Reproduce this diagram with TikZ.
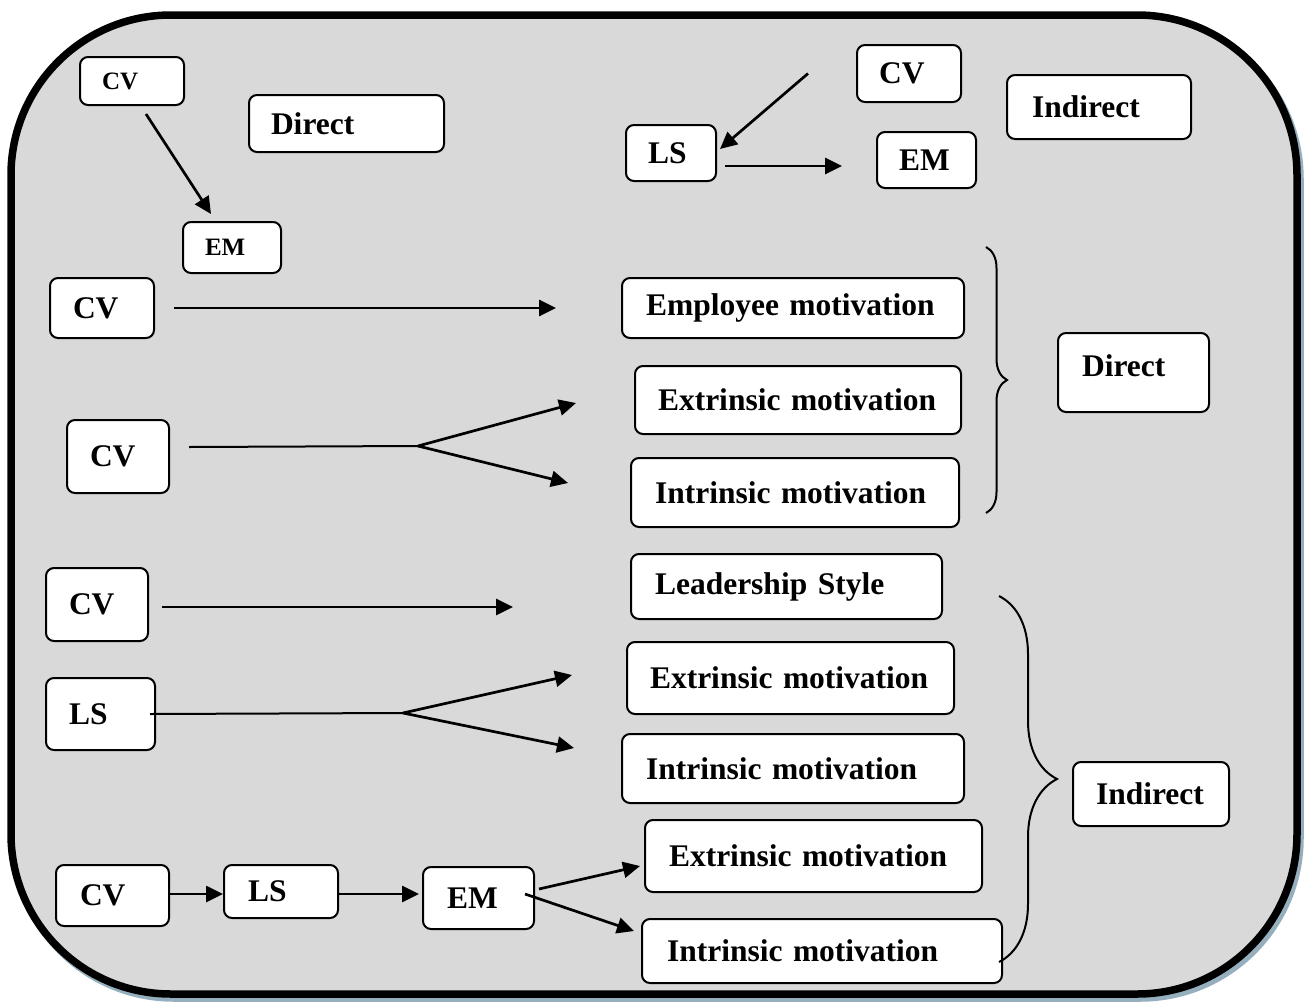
\documentclass[tikz,border=0pt]{standalone}
\usepackage{fontspec}
\setmainfont{Liberation Serif}
\usetikzlibrary{arrows.meta, decorations.pathreplacing}
\definecolor{panelgray}{RGB}{217,217,217}
\definecolor{shadowblue}{RGB}{150,175,190}

\tikzset{
  bx/.style n args={3}{draw, line width=2pt, rounded corners=8pt, fill=white,
    anchor=north west, align=left, inner ysep=0pt,
    text width=#1, minimum height=#2, inner xsep=#3},
  big/.style={font=\fontsize{31.5}{36}\selectfont\bfseries},
  small/.style={font=\fontsize{25}{30}\selectfont\bfseries},
  arr/.style={line width=2.7pt, -{Triangle[length=17pt,width=16pt]}},
  ln/.style={line width=2pt},
  brc/.style={decorate, decoration={brace, amplitude=#1}, line width=2pt}
}

\begin{document}
\begin{tikzpicture}[x=1pt, y=-1pt]
    \useasboundingbox (0,0) rectangle (1304,1002);
    % frame
    \draw[shadowblue, line width=7.5pt, rounded corners=160pt] (14,19) rectangle (1300,998);
    \draw[line width=7.5pt, fill=panelgray, rounded corners=160pt] (11,15) rectangle (1297,994);

    % legend: direct
    \node[bx={60pt}{48pt}{22pt}, small] (cvA) at (79,56) {CV};
    \node[bx={151pt}{57pt}{22pt}, big] (dirA) at (248,94) {Direct};
    \node[bx={54pt}{51pt}{22pt}, small] (emA) at (182,221) {EM};
    \draw[arr] ([xshift=14pt,yshift=-8pt]cvA.south) -- ([xshift=-21pt,yshift=7pt]emA.north);

    % legend: indirect
    \node[bx={60pt}{57pt}{22pt}, big] (cvB) at (856,44) {CV};
    \node[bx={46pt}{56pt}{22pt}, big] (lsB) at (625,124) {LS};
    \node[bx={55pt}{56pt}{22pt}, big] (emB) at (876,131) {EM};
    \node[bx={134pt}{64pt}{25pt}, big] (indB) at (1006,74) {Indirect};
    \draw[arr] ([xshift=-48pt]cvB.west) -- ([xshift=3pt,yshift=4pt]lsB.east);
    \draw[arr] ([xshift=8pt,yshift=-13pt]lsB.east) -- ([xshift=-34pt,yshift=-6pt]emB.west);

    % direct effects
    \node[bx={58pt}{60pt}{23pt}, big] (cv1) at (49,277) {CV};
    \node[bx={294pt}{60pt}{24pt}, big] (emot) at (621,277) {Employee motivation};
    \node[bx={280pt}{68pt}{23pt}, big] (exA) at (634,365) {Extrinsic motivation};
    \node[bx={280pt}{69pt}{24pt}, big] (inA) at (630,457) {Intrinsic motivation};
    \node[bx={56pt}{73pt}{23pt}, big] (cv2) at (66,419) {CV};
    \node[bx={103pt}{79pt}{24pt}, big, text depth=14pt] (dirB) at (1057,332) {Direct};
    \coordinate (fork1) at (418,446);
    \draw[arr] ([xshift=19pt]cv1.east) -- ([xshift=-65pt]emot.west);
    \draw[ln] ([xshift=19pt,yshift=9.5pt]cv2.east) -- (fork1);
    \draw[arr] (fork1) -- ([xshift=-58pt,yshift=-3pt]exA.west);
    \draw[arr] (fork1) -- ([xshift=-62pt,yshift=9.5pt]inA.west);
    \draw[brc=21pt] (986,247) -- (986,513);

    % indirect effects
    \node[bx={56pt}{73pt}{23pt}, big] (cv3) at (45,567) {CV};
    \node[bx={263pt}{65pt}{24pt}, big] (lead) at (630,553) {Leadership Style};
    \node[bx={281pt}{72pt}{23pt}, big] (exB) at (626,641) {Extrinsic motivation};
    \node[bx={294pt}{69pt}{24pt}, big] (inB) at (621,733) {Intrinsic motivation};
    \node[bx={63pt}{72pt}{23pt}, big] (ls1) at (45,677) {LS};
    \node[bx={110pt}{64pt}{23pt}, big] (indC) at (1072,761) {Indirect};
    \coordinate (fork2) at (403,713);
    \draw[arr] ([xshift=13pt,yshift=-2.5pt]cv3.east) -- ([xshift=-117pt,yshift=-20.5pt]lead.west);
    \draw[ln] ([xshift=-6pt]ls1.east) -- (fork2);
    \draw[arr] (fork2) -- ([xshift=-54pt,yshift=3pt]exB.west);
    \draw[arr] (fork2) -- ([xshift=-47pt,yshift=20.5pt]inB.west);

    % chain
    \node[bx={65pt}{61pt}{24pt}, big] (cv4) at (55,864) {CV};
    \node[bx={66pt}{53pt}{24pt}, big] (ls2) at (223,864) {LS};
    \node[bx={63pt}{62pt}{24pt}, big] (em2) at (422,866) {EM};
    \node[bx={289pt}{72pt}{24pt}, big] (exC) at (644,819) {Extrinsic motivation};
    \node[bx={310pt}{64pt}{25pt}, big] (inC) at (641,918) {Intrinsic motivation};
    \draw[arr] ([yshift=1.5pt]cv4.east) -- ([yshift=1.5pt]cv4.east -| ls2.west);
    \draw[arr] ([yshift=-2.5pt]ls2.east) -- ([xshift=-3pt,yshift=-2.5pt]ls2.east -| em2.west);
    \draw[arr] ([xshift=4pt,yshift=9pt]em2.east) -- ([xshift=-4pt,yshift=-10pt]exC.west);
    \draw[arr] ([xshift=-10pt,yshift=4pt]em2.east) -- ([xshift=-7pt,yshift=20pt]inC.west);
    \draw[brc=58pt] (999,596) -- (999,962);
\end{tikzpicture}
\end{document}
